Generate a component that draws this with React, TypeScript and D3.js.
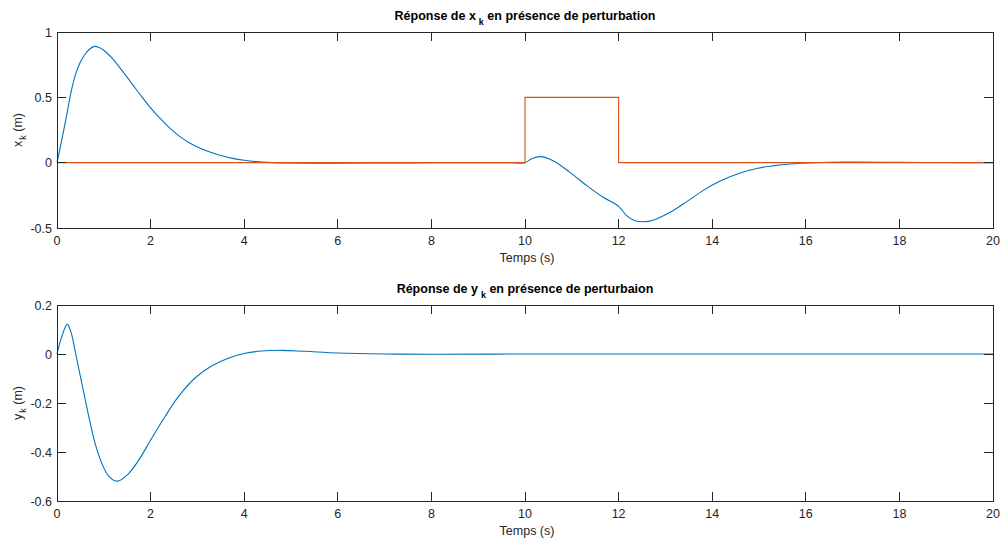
import React from 'react';
import * as d3 from 'd3';

// x_k response (top plot)
const tX = [0, 0.1, 0.2, 0.3, 0.4, 0.5, 0.6, 0.7, 0.8, 0.9, 1.0, 1.2, 1.4, 1.6, 1.8, 2.0, 2.2, 2.4, 2.6, 2.8, 3.0, 3.25, 3.5, 3.75, 4.0, 4.25, 4.5, 5.0, 6.0, 7.0, 8.0, 9.0, 9.7, 10.0, 10.15, 10.34, 10.6, 10.96, 11.32, 11.67, 12.0, 12.17, 12.35, 12.53, 12.74, 13.1, 13.45, 13.8, 14.17, 14.6, 15.0, 15.45, 15.9, 16.5, 17.0, 18.0, 19.0, 20.0];
const xk = [0, 0.17, 0.35, 0.54, 0.68, 0.77, 0.83, 0.87, 0.89, 0.882, 0.86, 0.79, 0.7, 0.605, 0.51, 0.42, 0.34, 0.268, 0.207, 0.158, 0.12, 0.083, 0.055, 0.033, 0.018, 0.008, 0.002, -0.003, -0.004, -0.002, -0.001, 0, 0, 0, 0.032, 0.046, 0.015, -0.074, -0.176, -0.265, -0.334, -0.405, -0.444, -0.452, -0.44, -0.38, -0.3, -0.214, -0.14, -0.079, -0.041, -0.018, -0.005, 0.003, 0.004, 0.002, 0.001, 0];

// perturbation (step)
const tP = [0, 10, 10, 12, 12, 20];
const pert = [0, 0, 0.5, 0.5, 0, 0];

// y_k response (bottom plot)
const tY = [0, 0.1, 0.22, 0.3, 0.4, 0.53, 0.67, 0.81, 0.95, 1.1, 1.29, 1.52, 1.74, 2.02, 2.31, 2.59, 2.95, 3.31, 3.66, 4.02, 4.37, 4.8, 5.3, 6.0, 7.0, 8.0, 10, 12, 14, 16, 18, 20];
const yk = [0, 0.07, 0.122, 0.088, 0.0, -0.119, -0.247, -0.362, -0.443, -0.497, -0.519, -0.49, -0.435, -0.345, -0.255, -0.175, -0.098, -0.048, -0.017, 0.003, 0.012, 0.015, 0.011, 0.004, 0.0, -0.001, 0, 0, 0, 0, 0, 0];

const xTicks = [0, 2, 4, 6, 8, 10, 12, 14, 16, 18, 20];
const yTicksTop = [-0.5, 0, 0.5, 1];
const yTicksBottom = [-0.6, -0.4, -0.2, 0, 0.2];

const W = 1001;
const H = 542;
const left = 57;
const right = 993;
const axisColor = '#262626';
const font = '"Liberation Sans", Arial, Helvetica, sans-serif';
const fs = 12.5;

type Series = { t: number[]; v: number[]; color: string; curve: d3.CurveFactory };

function Panel({ top, bottom, yDomain, yTicks, series, title, sym, titleTail }: {
  top: number; bottom: number; yDomain: [number, number]; yTicks: number[];
  series: Series[]; title: string; sym: string; titleTail: string;
}) {
  const x = d3.scaleLinear().domain([0, 20]).range([left, right]);
  const y = d3.scaleLinear().domain(yDomain).range([bottom, top]);
  const tl = 9;
  const fmt = (d: number) => (d === 0 ? '0' : String(d));
  const midY = (top + bottom) / 2;

  return (
    <g>
      {series.map((s, i) => {
        const line = d3.line<number>()
          .x((_, j) => x(s.t[j]))
          .y(d => y(d))
          .curve(s.curve);
        return <path key={i} d={line(s.v) || ''} fill="none" stroke={s.color} strokeWidth={1.1} />;
      })}
      {/* box */}
      <rect x={left} y={top} width={right - left} height={bottom - top} fill="none" stroke={axisColor} strokeWidth={1} shapeRendering="crispEdges" />
      {xTicks.map(t => (
        <g key={'x' + t}>
          <line x1={x(t)} x2={x(t)} y1={bottom} y2={bottom - tl} stroke={axisColor} shapeRendering="crispEdges" />
          <line x1={x(t)} x2={x(t)} y1={top} y2={top + tl} stroke={axisColor} shapeRendering="crispEdges" />
          <text x={x(t)} y={bottom + 17} textAnchor="middle" fontSize={fs} fill={axisColor} fontFamily={font}>{t}</text>
        </g>
      ))}
      {yTicks.map(v => (
        <g key={'y' + v}>
          <line x1={left} x2={left + tl} y1={y(v)} y2={y(v)} stroke={axisColor} shapeRendering="crispEdges" />
          <line x1={right} x2={right - tl} y1={y(v)} y2={y(v)} stroke={axisColor} shapeRendering="crispEdges" />
          <text x={52} y={y(v) + 4.5} textAnchor="end" fontSize={fs} fill={axisColor} fontFamily={font}>{fmt(v)}</text>
        </g>
      ))}
      <text x={(left + right) / 2 + 2} y={bottom + 34} textAnchor="middle" fontSize={fs} fill={axisColor} fontFamily={font}>Temps (s)</text>
      <text transform={`translate(22,${midY}) rotate(-90)`} textAnchor="middle" fontSize={fs} fill={axisColor} fontFamily={font}>
        {sym}<tspan dx={1} dy={4} fontSize={9}>k</tspan><tspan dy={-4}> (m)</tspan>
      </text>
      <text x={(left + right) / 2} y={top - 12} textAnchor="middle" fontSize={12.5} fontWeight="bold" fill="#000" fontFamily={font}>
        {title}<tspan dx={3} dy={5} fontSize={9}>k</tspan><tspan dy={-5}>{titleTail}</tspan>
      </text>
    </g>
  );
}

export default function App() {
  const blue = '#0072BD';
  const orange = '#D95319';
  return (
    <svg width={W} height={H} style={{ position: 'absolute', left: 0, top: 0, background: '#fff' }}>
      <rect width={W} height={H} fill="#fff" />
      <Panel
        top={32} bottom={228} yDomain={[-0.5, 1]} yTicks={yTicksTop}
        series={[
          { t: tX, v: xk, color: blue, curve: d3.curveCatmullRom.alpha(0.5) },
          { t: tP, v: pert, color: orange, curve: d3.curveLinear },
        ]}
        title="Réponse de x" sym="x" titleTail=" en présence de perturbation"
      />
      <Panel
        top={305} bottom={501} yDomain={[-0.6, 0.2]} yTicks={yTicksBottom}
        series={[{ t: tY, v: yk, color: blue, curve: d3.curveCatmullRom.alpha(0.5) }]}
        title="Réponse de y" sym="y" titleTail=" en présence de perturbaion"
      />
    </svg>
  );
}
